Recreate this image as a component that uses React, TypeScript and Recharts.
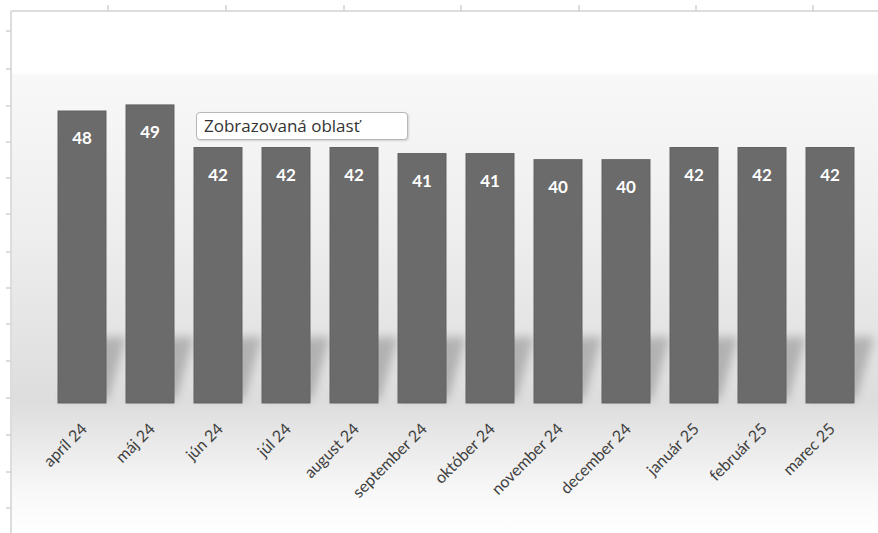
import React from 'react';
import { BarChart, Bar, XAxis, YAxis, LabelList } from 'recharts';

const months = [
  'apríl 24', 'máj 24', 'jún 24', 'júl 24', 'august 24', 'september 24',
  'október 24', 'november 24', 'december 24', 'január 25', 'február 25', 'marec 25',
];
const values = [48, 49, 42, 42, 42, 41, 41, 40, 40, 42, 42, 42];

const data = months.map((m, i) => ({ month: m, value: values[i] }));

// ruler-like marks on the outer frame
const topMarks = [108, 226, 344, 461, 579, 696, 813];
const leftMarks = [31, 69, 106, 142, 178, 214, 252, 288, 324, 361, 398, 435, 472, 508];

const FONT = 'Lato, "Open Sans", sans-serif';

const ShadowBar = (props: any) => {
  const { x, y, width, height } = props;
  const bottom = y + height;
  const sh = `M${x + 4},${bottom - 4} L${x + width + 2},${bottom - 4} L${x + width + 20},${bottom - 66} L${x + 22},${bottom - 66} Z`;
  return (
    <g>
      <path d={sh} fill="#6a6a6a" opacity={0.4} filter="url(#barShadow)" />
      <rect x={x} y={y} width={width} height={height} fill="#6b6b6b" stroke="#636363" strokeWidth={1} />
    </g>
  );
};

const MonthTick = (props: any) => {
  const { x, y, payload } = props;
  const tx = x + 6;
  const ty = y + 19;
  return (
    <text
      x={tx}
      y={ty}
      textAnchor="end"
      transform={`rotate(-45, ${tx}, ${ty})`}
      fill="#404040"
      fontSize={16}
      fontFamily={FONT}
    >
      {payload.value}
    </text>
  );
};

export default function App() {
  return (
    <div style={{ position: 'absolute', left: 0, top: 0, width: 878, height: 533, background: '#ffffff', overflow: 'hidden' }}>
      <div
        style={{
          position: 'absolute',
          left: 12,
          top: 12,
          width: 866,
          height: 521,
          background:
            'linear-gradient(to bottom, #ffffff 0px, #ffffff 60px, #f8f8f8 64px, #eeeeee 220px, #e3e3e3 330px, #dddddd 390px, #e6e6e6 420px, #f8f8f8 480px, #ffffff 521px)',
        }}
      />
      <div style={{ position: 'absolute', left: 0, top: 0 }}>
        <BarChart width={878} height={533} data={data} margin={{ top: 38, right: 14, bottom: 0, left: 48 }} barCategoryGap={10}>
          <defs>
            <filter id="barShadow" x="-50%" y="-50%" width="200%" height="200%">
              <feGaussianBlur stdDeviation="5" />
            </filter>
          </defs>
          <XAxis dataKey="month" height={130} axisLine={false} tickLine={false} interval={0} tick={<MonthTick />} />
          <YAxis hide domain={[0, 60]} />
          <Bar dataKey="value" isAnimationActive={false} shape={<ShadowBar />}>
            <LabelList
              dataKey="value"
              position="insideTop"
              offset={21}
              fill="#ffffff"
              fontSize={17}
              fontWeight="bold"
              fontFamily={FONT}
            />
          </Bar>
        </BarChart>
      </div>
      <svg width={878} height={533} style={{ position: 'absolute', left: 0, top: 0, pointerEvents: 'none' }}>
        <line x1={11} y1={11} x2={878} y2={11} stroke="#d2d2d2" strokeWidth={1.5} />
        <line x1={11} y1={11} x2={11} y2={533} stroke="#d2d2d2" strokeWidth={1.5} />
        {topMarks.map((mx) => (
          <line key={mx} x1={mx} y1={5} x2={mx} y2={11} stroke="#d2d2d2" strokeWidth={1.5} />
        ))}
        {leftMarks.map((my) => (
          <line key={my} x1={6} y1={my} x2={11} y2={my} stroke="#d2d2d2" strokeWidth={1.5} />
        ))}
      </svg>
      <div
        style={{
          position: 'absolute',
          left: 196,
          top: 112,
          width: 212,
          height: 28,
          boxSizing: 'border-box',
          background: '#ffffff',
          border: '1px solid #b8b8b8',
          borderRadius: 4,
          boxShadow: '1px 1px 2px rgba(0,0,0,0.15)',
          fontFamily: '"Open Sans", sans-serif',
          fontSize: 17,
          color: '#333333',
          lineHeight: '26px',
          paddingLeft: 7,
          whiteSpace: 'nowrap',
        }}
      >
        Zobrazovaná oblasť
      </div>
    </div>
  );
}
